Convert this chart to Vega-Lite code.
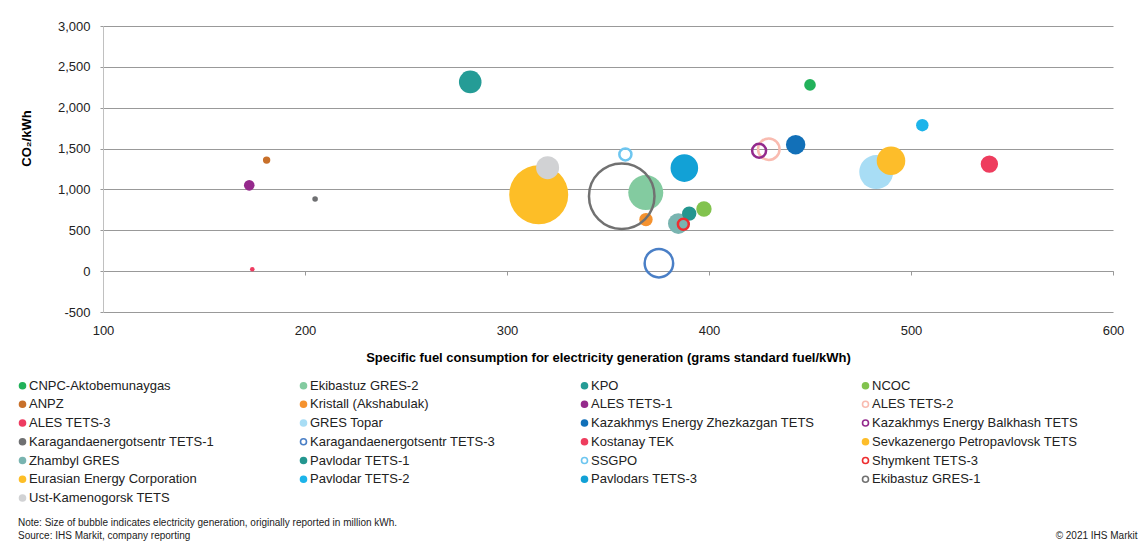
{
  "$schema": "https://vega.github.io/schema/vega-lite/v6.json",
  "width": 1010,
  "height": 286,
  "autosize": {"type": "none"},
  "padding": {"left": 103, "top": 26, "right": 32, "bottom": 238},
  "background": "white",
  "config": {
    "font": "Liberation Sans",
    "view": {"stroke": null},
    "legend": {"labelLimit": 400}
  },
  "title": {
    "text": ["Note: Size of bubble indicates electricity generation, originally reported in million kWh.", "Source: IHS Markit, company reporting"],
    "orient": "bottom",
    "anchor": "start",
    "frame": "group",
    "dx": -85,
    "offset": -22,
    "fontSize": 10,
    "fontWeight": "normal",
    "lineHeight": 13,
    "color": "#222222"
  },
  "data": {
    "values": [
      {"plant": "CNPC-Aktobemunaygas", "fuel": 450.0, "co2": 2279, "generation": 606, "marker": "filled"},
      {"plant": "Ekibastuz GRES-2", "fuel": 368.7, "co2": 961, "generation": 5513, "marker": "filled"},
      {"plant": "KPO", "fuel": 281.8, "co2": 2316, "generation": 2298, "marker": "filled"},
      {"plant": "NCOC", "fuel": 397.5, "co2": 761, "generation": 1067, "marker": "filled"},
      {"plant": "ANPZ", "fuel": 181.0, "co2": 1359, "generation": 246, "marker": "filled"},
      {"plant": "Kristall (Akshabulak)", "fuel": 368.8, "co2": 631, "generation": 808, "marker": "filled"},
      {"plant": "ALES TETS-1", "fuel": 172.4, "co2": 1050, "generation": 506, "marker": "filled"},
      {"plant": "ALES TETS-2", "fuel": 429.6, "co2": 1493, "generation": 2080, "marker": "open"},
      {"plant": "ALES TETS-3", "fuel": 173.9, "co2": 24, "generation": 95, "marker": "filled"},
      {"plant": "GRES Topar", "fuel": 482.8, "co2": 1212, "generation": 5202, "marker": "filled"},
      {"plant": "Kazakhmys Energy Zhezkazgan TETS", "fuel": 442.9, "co2": 1547, "generation": 1694, "marker": "filled"},
      {"plant": "Kazakhmys Energy Balkhash TETS", "fuel": 424.8, "co2": 1474, "generation": 869, "marker": "open"},
      {"plant": "Karagandaenergotsentr TETS-1", "fuel": 205.0, "co2": 883, "generation": 141, "marker": "filled"},
      {"plant": "Karagandaenergotsentr TETS-3", "fuel": 375.2, "co2": 98, "generation": 3655, "marker": "open"},
      {"plant": "Kostanay TEK", "fuel": 538.8, "co2": 1310, "generation": 1362, "marker": "filled"},
      {"plant": "Sevkazenergo Petropavlovsk TETS", "fuel": 490.1, "co2": 1351, "generation": 3681, "marker": "filled"},
      {"plant": "Zhambyl GRES", "fuel": 384.8, "co2": 582, "generation": 1910, "marker": "filled"},
      {"plant": "Pavlodar TETS-1", "fuel": 390.2, "co2": 704, "generation": 933, "marker": "filled"},
      {"plant": "SSGPO", "fuel": 358.6, "co2": 1428, "generation": 659, "marker": "open"},
      {"plant": "Shymkent TETS-3", "fuel": 387.3, "co2": 574, "generation": 535, "marker": "open"},
      {"plant": "Eurasian Energy Corporation", "fuel": 315.7, "co2": 936, "generation": 15665, "marker": "filled"},
      {"plant": "Pavlodar TETS-2", "fuel": 505.6, "co2": 1786, "generation": 692, "marker": "filled"},
      {"plant": "Pavlodars TETS-3", "fuel": 387.8, "co2": 1261, "generation": 3428, "marker": "filled"},
      {"plant": "Ekibastuz GRES-1", "fuel": 356.8, "co2": 918, "generation": 19307, "marker": "open"},
      {"plant": "Ust-Kamenogorsk TETS", "fuel": 320.1, "co2": 1266, "generation": 2381, "marker": "filled"}
    ]
  },
  "encoding": {
    "x": {
      "field": "fuel",
      "type": "quantitative",
      "scale": {"domain": [100, 600], "nice": false, "zero": false},
      "axis": {
        "values": [100, 200, 300, 400, 500, 600],
        "offset": -41,
        "grid": false,
        "domain": true,
        "domainColor": "#999999",
        "ticks": true,
        "tickColor": "#999999",
        "tickSize": 4,
        "labelFlush": false,
        "labelPadding": 49,
        "labelFontSize": 13,
        "labelColor": "#222222",
        "title": "Specific fuel consumption for electricity generation (grams standard fuel/kWh)",
        "titleFontSize": 13,
        "titleFontWeight": "bold",
        "titleColor": "#000000",
        "titlePadding": 14
      }
    }
  },
  "layer": [
    {
      "mark": {"type": "point", "filled": false, "opacity": 1, "shape": "circle"},
      "encoding": {
        "y": {
          "field": "co2",
          "type": "quantitative",
          "scale": {"domain": [-500, 3000], "nice": false, "zero": false},
          "axis": {
            "orient": "left",
            "values": [-500, 0, 500, 1000, 1500, 2000, 2500, 3000],
            "labelExpr": "replace(format(datum.value, ','), '\u2212', '-')",
            "grid": true,
            "gridColor": "#999999",
            "gridWidth": 1,
            "domain": true,
            "domainColor": "#c0c0c0",
            "ticks": true,
            "tickColor": "#999999",
            "tickSize": 3,
            "labelPadding": 10,
            "labelFontSize": 13,
            "labelColor": "#222222",
            "title": "CO\u2082/kWh",
            "titleFontSize": 13,
            "titleFontWeight": "bold",
            "titleColor": "#000000",
            "titleAngle": -90,
            "titleX": -77,
            "titleY": 112,
            "titleAlign": "center",
            "titleBaseline": "middle"
          }
        },
        "size": {
          "field": "generation",
          "type": "quantitative",
          "scale": {"type": "linear", "domain": [0, 20000], "range": [0, 4444], "zero": true},
          "legend": null
        },
        "fill": {
          "field": "plant",
          "type": "nominal",
          "scale": {
            "domain": ["CNPC-Aktobemunaygas","Ekibastuz GRES-2","KPO","NCOC","ANPZ","Kristall (Akshabulak)","ALES TETS-1","ALES TETS-2","ALES TETS-3","GRES Topar","Kazakhmys Energy Zhezkazgan TETS","Kazakhmys Energy Balkhash TETS","Karagandaenergotsentr TETS-1","Karagandaenergotsentr TETS-3","Kostanay TEK","Sevkazenergo Petropavlovsk TETS","Zhambyl GRES","Pavlodar TETS-1","SSGPO","Shymkent TETS-3","Eurasian Energy Corporation","Pavlodar TETS-2","Pavlodars TETS-3","Ekibastuz GRES-1","Ust-Kamenogorsk TETS"],
            "range": ["#22B15A","#83CBA0","#259C96","#82C34E","#C8702A","#F5922F","#952A8C","transparent","#EE3C61","#A8DDF5","#1270B8","transparent","#6F7072","transparent","#EE3D5E","#FDBD2A","#79B4B0","#24968F","transparent","transparent","#FDBE27","#1DB4EA","#12A1D6","transparent","#D1D2D4"]
          },
          "legend": {
            "orient": "none",
            "direction": "horizontal",
            "legendX": -87,
            "legendY": 353,
            "columns": 4,
            "gridAlign": "all",
            "columnPadding": 44,
            "rowPadding": 4.75,
            "symbolType": "circle",
            "symbolSize": 36,
            "symbolStrokeWidth": 1.6,
            "labelFontSize": 13,
            "labelOffset": 0,
            "labelColor": "#222222",
            "labelLimit": 400,
            "title": null
          }
        },
        "stroke": {
          "field": "plant",
          "type": "nominal",
          "scale": {
            "domain": ["CNPC-Aktobemunaygas","Ekibastuz GRES-2","KPO","NCOC","ANPZ","Kristall (Akshabulak)","ALES TETS-1","ALES TETS-2","ALES TETS-3","GRES Topar","Kazakhmys Energy Zhezkazgan TETS","Kazakhmys Energy Balkhash TETS","Karagandaenergotsentr TETS-1","Karagandaenergotsentr TETS-3","Kostanay TEK","Sevkazenergo Petropavlovsk TETS","Zhambyl GRES","Pavlodar TETS-1","SSGPO","Shymkent TETS-3","Eurasian Energy Corporation","Pavlodar TETS-2","Pavlodars TETS-3","Ekibastuz GRES-1","Ust-Kamenogorsk TETS"],
            "range": ["#22B15A","#83CBA0","#259C96","#82C34E","#C8702A","#F5922F","#952A8C","#F9BBB0","#EE3C61","#A8DDF5","#1270B8","#932A8D","#6F7072","#4A7FC6","#EE3D5E","#FDBD2A","#79B4B0","#24968F","#6DC6F0","#EE2D2F","#FDBE27","#1DB4EA","#12A1D6","#717171","#D1D2D4"]
          },
          "legend": {
            "orient": "none",
            "direction": "horizontal",
            "legendX": -87,
            "legendY": 353,
            "columns": 4,
            "gridAlign": "all",
            "columnPadding": 44,
            "rowPadding": 4.75,
            "symbolType": "circle",
            "symbolSize": 36,
            "symbolStrokeWidth": 1.6,
            "labelFontSize": 13,
            "labelOffset": 0,
            "labelColor": "#222222",
            "labelLimit": 400,
            "title": null
          }
        },
        "strokeWidth": {
          "condition": {"test": "datum.marker === 'open'", "value": 2.5},
          "value": 0
        }
      }
    },
    {
      "mark": {"type": "point", "opacity": 0, "size": 1},
      "encoding": {
        "y": {
          "field": "co2",
          "type": "quantitative",
          "scale": {"domain": [-500, 3000], "nice": false, "zero": false},
          "axis": {
            "orient": "right",
            "labels": false,
            "ticks": false,
            "domain": false,
            "grid": false,
            "title": "\u00a9 2021 IHS Markit",
            "titleFontSize": 10,
            "titleFontWeight": "normal",
            "titleColor": "#222222",
            "titleAngle": 0,
            "titleAlign": "right",
            "titleBaseline": "middle",
            "titleX": 24,
            "titleY": 509
          }
        }
      }
    }
  ],
  "resolve": {"axis": {"y": "independent"}}
}
